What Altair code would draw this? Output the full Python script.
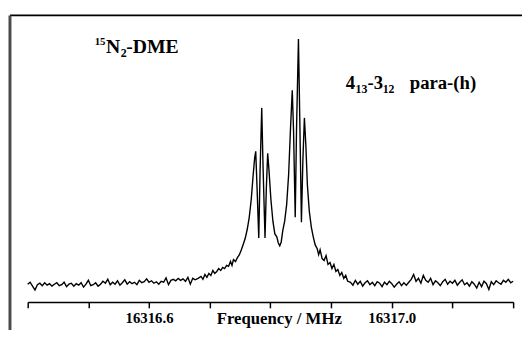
import altair as alt
import pandas as pd

# ---- data ----
F0 = 16316.0  # MHz offset base
# baseline noise left of the lines (grid start 0.400 MHz, step 0.004 MHz)
LEFT_START, STEP = 0.400, 0.004
LEFT_INT = [-0.004, 0.004, -0.012, -0.028, -0.006, 0.000, -0.010, 0.002, -0.008, -0.002,
            -0.012, -0.004, 0.002, -0.010, -0.006, 0.004, -0.014, -0.004, 0.000, -0.012,
            -0.002, -0.008, 0.002, -0.016, -0.004, 0.012, -0.010, -0.006, 0.002, -0.012,
            -0.004, 0.008, 0.000, 0.016, -0.006, 0.004, -0.004, 0.010, -0.008, 0.002,
            0.014, -0.004, 0.006, -0.002, 0.004, -0.006, 0.012, 0.002, 0.006, 0.018,
            0.004, 0.010, 0.000, 0.006, -0.004, 0.008, 0.004, 0.022, -0.006, 0.012,
            0.016, 0.010, 0.020, 0.012, 0.018, 0.008, 0.024, -0.004, 0.020, 0.014]
# line region
PEAK_FREQ = [0.6807, 0.6856, 0.6888, 0.6921, 0.6953, 0.6986, 0.7018, 0.7051, 0.7083, 0.7116,
             0.7148, 0.7181, 0.7213, 0.7245, 0.7278, 0.7310, 0.7343, 0.7367, 0.7391, 0.7424,
             0.7456, 0.7489, 0.7521, 0.7554, 0.7586, 0.7619, 0.7651, 0.7684, 0.7716, 0.7740,
             0.7758, 0.7781, 0.7808, 0.7830, 0.7857, 0.7878, 0.7911, 0.7932, 0.7955, 0.7976,
             0.8008, 0.8041, 0.8073, 0.8105, 0.8130, 0.8154, 0.8178, 0.8203, 0.8235, 0.8268,
             0.8300, 0.8333, 0.8360, 0.8381, 0.8409, 0.8430, 0.8462, 0.8487, 0.8511, 0.8535,
             0.8560, 0.8584, 0.8609, 0.8641, 0.8674, 0.8706, 0.8738, 0.8771, 0.8795, 0.8819,
             0.8852, 0.8884, 0.8917, 0.8949, 0.8982, 0.9014, 0.9046, 0.9079, 0.9111, 0.9144,
             0.9176, 0.9209, 0.9241, 0.9273]
PEAK_INT = [0.020, 0.028, 0.016, 0.036, 0.024, 0.040, 0.032, 0.052, 0.040, 0.048,
            0.060, 0.052, 0.065, 0.060, 0.073, 0.069, 0.089, 0.073, 0.097, 0.089,
            0.105, 0.117, 0.137, 0.161, 0.185, 0.222, 0.270, 0.343, 0.444, 0.512,
            0.540, 0.383, 0.185, 0.464, 0.718, 0.484, 0.185, 0.383, 0.532, 0.464,
            0.343, 0.254, 0.202, 0.190, 0.165, 0.153, 0.169, 0.214, 0.254, 0.323,
            0.444, 0.645, 0.790, 0.625, 0.270, 0.625, 1.000, 0.625, 0.250, 0.504,
            0.677, 0.565, 0.403, 0.294, 0.230, 0.190, 0.157, 0.141, 0.117, 0.137,
            0.101, 0.093, 0.113, 0.077, 0.085, 0.060, 0.077, 0.048, 0.056, 0.032,
            0.044, 0.020, 0.032, 0.008]
# baseline noise right of the lines (grid start 0.932 MHz, step 0.004 MHz)
RIGHT_START = 0.932
RIGHT_INT = [0.004, -0.008, 0.012, -0.004, 0.008, -0.012, 0.002, 0.010, -0.006, 0.004,
             -0.010, 0.006, 0.000, -0.014, 0.004, -0.006, 0.008, -0.002, -0.016, -0.004,
             0.006, -0.010, 0.002, -0.008, 0.004, 0.016, 0.036, 0.008, 0.020, 0.000,
             0.032, 0.012, 0.004, 0.020, -0.006, 0.010, 0.002, -0.010, 0.006, 0.016,
             -0.004, 0.008, 0.000, 0.012, -0.008, 0.004, 0.014, -0.006, 0.002, -0.012,
             0.006, -0.004, -0.020, 0.004, -0.014, 0.008, -0.002, -0.026, 0.006, -0.006,
             0.010, 0.002, -0.004, 0.012, 0.004, 0.016, 0.002, 0.008]

TICKS = [16316.4, 16316.5, 16316.6, 16316.7, 16316.8, 16316.9, 16317.0, 16317.1, 16317.2]

freq = ([F0 + round(LEFT_START + STEP * i, 4) for i in range(len(LEFT_INT))]
        + [F0 + f for f in PEAK_FREQ]
        + [F0 + round(RIGHT_START + STEP * i, 4) for i in range(len(RIGHT_INT))])
inten = LEFT_INT + PEAK_INT + RIGHT_INT
df = pd.DataFrame({"f": freq, "I": inten, "o": range(len(freq))})

SERIF = "Liberation Serif"
W, H = 493, 291

line = alt.Chart(df).mark_line(color="black", strokeWidth=1.4, clip=False).encode(
    x=alt.X("f:Q", scale=alt.Scale(domain=[16316.4, 16317.2], nice=False, zero=False),
            axis=alt.Axis(values=TICKS, title="Frequency / MHz",
                          labelExpr="(abs(datum.value-16316.6)<0.001 || abs(datum.value-16317.0)<0.001) ? format(datum.value,'.1f') : ''",
                          labelFont=SERIF, labelFontWeight="bold", labelFontSize=15, labelColor="black",
                          labelPadding=3, labelFlush=False, labelOverlap=False,
                          titleFont=SERIF, titleFontWeight="bold", titleFontSize=17, titleColor="black",
                          titleX=255, titleY=22, titleBaseline="alphabetic", titleAnchor="middle",
                          domainColor="black", domainWidth=1.5, tickColor="black", tickWidth=1.5,
                          tickSize=6, grid=False)),
    y=alt.Y("I:Q", scale=alt.Scale(domain=[-0.0766, 1.0968], nice=False, zero=False), axis=None),
    order="o:Q",
)

blank = pd.DataFrame({"a": [0]})


def txt(s, x, y, size):
    return alt.Chart(blank).mark_text(text=s, font=SERIF, fontWeight="bold", fontSize=size,
                                      align="left", baseline="alphabetic", color="black").encode(
        x=alt.value(x - 28), y=alt.value(y - 13))


top_rule = alt.Chart(blank).mark_rule(color="black", strokeWidth=1.8).encode(
    x=alt.value(-18), x2=alt.value(W + 20), y=alt.value(0))
left_rule = alt.Chart(blank).mark_rule(color="#4a4a4a", strokeWidth=3).encode(
    x=alt.value(-18), y=alt.value(0), y2=alt.value(H + 40))

labels = [
    txt("15", 96, 43, 11), txt("N", 107.5, 51, 20), txt("2", 122.5, 55, 12), txt("-DME", 128, 51, 20),
    txt("4", 351, 88, 19), txt("13", 361, 92, 12), txt("-3", 373, 88, 19), txt("12", 388.5, 92, 12),
    txt("para-(h)", 416, 88, 19),
]

chart = alt.layer(line, top_rule, left_rule, *labels).properties(
    width=W, height=H,
    autosize=alt.AutoSizeParams(type="none"),
    padding={"left": 20, "top": 5, "right": 9, "bottom": 26},
    background="white",
).configure_view(stroke=None)

chart.save("out.html", embed_options={"renderer": "svg", "actions": False})
